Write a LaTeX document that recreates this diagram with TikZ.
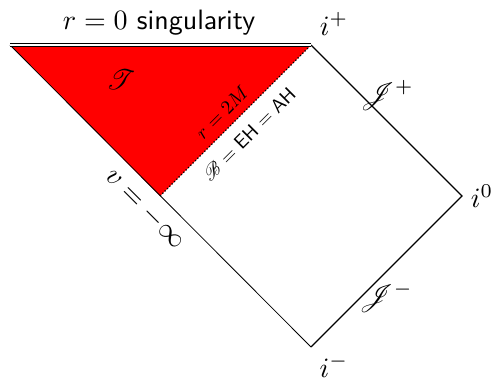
\documentclass[tikz,border=0pt]{standalone}
\usepackage{mathrsfs}
\begin{document}
\begin{tikzpicture}[x=1pt,y=-1pt,
  lbl/.style={scale=2.8, inner sep=0pt},
  small/.style={scale=1.95, inner sep=0pt},
  edge/.style={line width=1.3pt, line join=miter}]
\useasboundingbox (0,0) rectangle (494,382);
\coordinate (L) at (10,45);
\coordinate (T) at (311,45);
\coordinate (H) at (160,196);
\coordinate (R) at (462,196);
\coordinate (D) at (311,347);
\fill[red] (L) -- (T) -- (H) -- cycle;
\draw[line width=0.8pt] (L) -- (D);
\draw[edge] (D) -- (R) -- (T);
\draw[dotted, line width=1.3pt] (H) -- (T);
\draw[double, double distance=1.8pt, line width=1.1pt] (L) -- (T);
\node[lbl] (sing) at (159,23) {$r=0$ \textsf{singularity}};
\node[lbl] (ip) at (334,24) {$i^+$};
\node[lbl] (tr) at (121,80) {$\mathscr{T}$};
\node[small, rotate=45] (r2m) at (222,112) {$r=2M$};
\node[small, rotate=45] (bh) at (249,134) {$\mathscr{B}=\textsf{EH}=\textsf{AH}$};
\node[lbl, rotate=-45] (vinf) at (145,209) {$v=-\infty$};
\node[lbl] (jp) at (387,95) {$\mathscr{J}^+$};
\node[lbl] (i0) at (482,196) {$i^0$};
\node[lbl] (jm) at (386,297) {$\mathscr{J}^-$};
\node[lbl] (im) at (334,366) {$i^-$};
\end{tikzpicture}
\end{document}
